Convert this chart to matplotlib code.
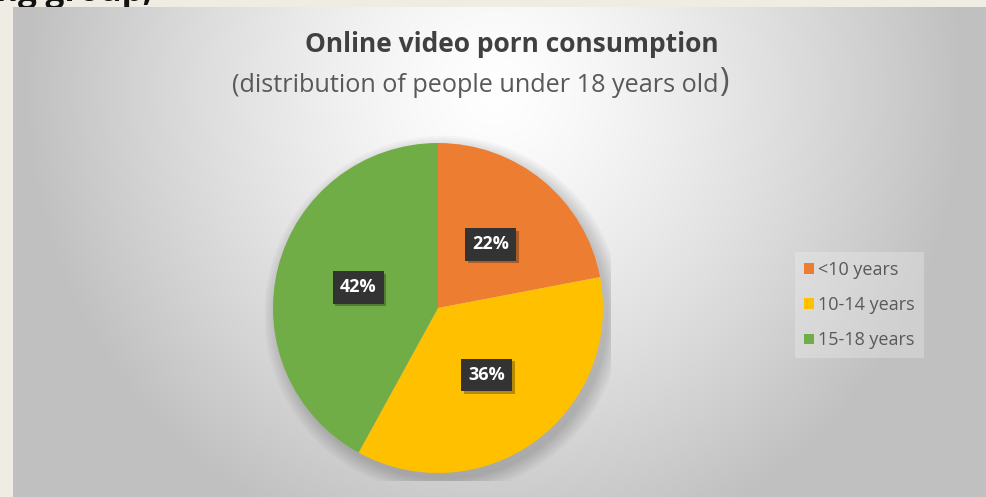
import numpy as np
import matplotlib.pyplot as plt
import matplotlib.patheffects as pe
from matplotlib.patches import Circle

# chart data
labels = ["<10 years", "10-14 years", "15-18 years"]
shares = [22, 36, 42]
colors = ["#ED7D31", "#FFC000", "#70AD47"]

W, H = 986, 497
fig = plt.figure(figsize=(W / 100, H / 100), dpi=100)
fig.patch.set_facecolor("#EFECE3")
plt.rcParams["font.family"] = ["Open Sans", "DejaVu Sans"]

# slide text cut off at the top edge
fig.text(-4 / W, 1 - 1 / H, "ng group,", fontsize=24, color="#111111",
         va="baseline", ha="left", fontweight="bold", zorder=0)

# chart panel with radial grey gradient
bg = fig.add_axes([13 / W, 0, 1 - 13 / W, 1 - 7 / H], zorder=1)
gx, gy = np.meshgrid(np.linspace(13, W, 400), np.linspace(7, H, 200))
d = np.sqrt(((gx - 495) / 470) ** 2 + ((gy - 90) / 480) ** 2)
d = np.clip(d, 0, 1) ** 1.3
val = 1.0 - 0.245 * d
bg.imshow(np.dstack([val, val, val]), extent=[0, 1, 0, 1], aspect="auto",
          origin="upper")
bg.set_axis_off()

# titles
fig.text(512 / W, 1 - 45 / H, "Online video porn consumption", fontsize=19,
         fontweight="bold", color="#404040", ha="center", va="center", zorder=3)
fig.text(719 / W, 1 - 85 / H, "(distribution of people under 18 years old",
         fontsize=18.2, color="#595959", ha="right", va="center", zorder=3)
fig.text(719 / W, 1 - 82 / H, ")", fontsize=23, color="#595959",
         ha="left", va="center", zorder=3)

# pie
cx, cy, r = 438, 308, 165
ax = fig.add_axes([(cx - r) / W, (H - cy - r) / H, 2 * r / W, 2 * r / H], zorder=2)
for k in range(8):
    ax.add_patch(Circle((0.03, -0.04), 1.0 + 0.012 * k, color="#000000",
                        alpha=0.022, lw=0, zorder=0))
wedges, texts, autotexts = ax.pie(
    shares, colors=colors, startangle=90, counterclock=False,
    autopct="%d%%", pctdistance=0.5,
    wedgeprops=dict(linewidth=0),
    textprops=dict(color="white", fontsize=13, fontweight="bold"))
for t in autotexts:
    t.set_bbox(dict(boxstyle="square,pad=0.4", facecolor="#333333",
                    edgecolor="none"))
    t.get_bbox_patch().set_path_effects(
        [pe.SimplePatchShadow(offset=(2, -2), alpha=0.3), pe.Normal()])
ax.set_xlim(-1.05, 1.05)
ax.set_ylim(-1.05, 1.05)
ax.set_aspect("equal")
ax.set_axis_off()
ax.set_position([(cx - 1.05 * r) / W, (H - cy - 1.05 * r) / H,
                 2.1 * r / W, 2.1 * r / H])

# legend
leg = fig.legend(wedges, labels, loc="upper left",
                 bbox_to_anchor=(795 / W, 1 - 252 / H), frameon=True,
                 fontsize=13, handlelength=0.55, handleheight=0.55,
                 handletextpad=0.25, labelspacing=0.95, borderpad=0.5,
                 borderaxespad=0)
leg.get_frame().set_facecolor("#F4F4F4")
leg.get_frame().set_alpha(0.3)
leg.get_frame().set_edgecolor("none")
leg.get_frame().set_boxstyle("square", pad=0)
leg.set_zorder(3)
for t in leg.get_texts():
    t.set_color("#595959")

fig.savefig("out.png", dpi=100)
